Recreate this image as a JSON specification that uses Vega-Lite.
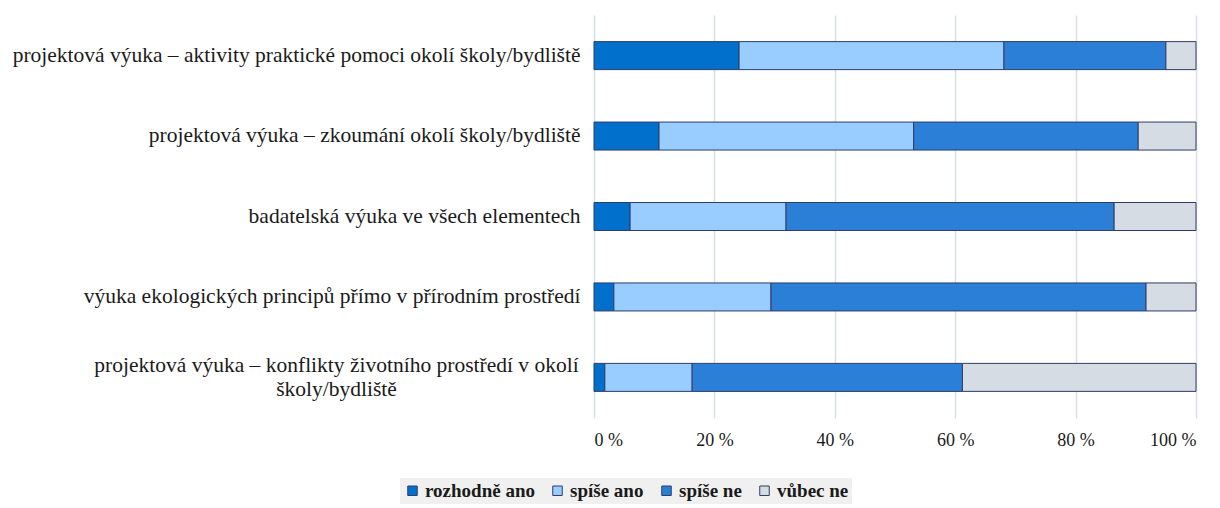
{
  "$schema": "https://vega.github.io/schema/vega-lite/v6.json",
  "autosize": "none",
  "width": 602,
  "height": 403,
  "padding": {"left": 594, "top": 15, "right": 24, "bottom": 90},
  "background": "white",
  "config": {"view": {"stroke": null}, "font": "Liberation Serif"},
  "data": {"values": [
    {"cat": "projektová výuka – aktivity praktické pomoci okolí školy/bydliště", "ord": 1, "resp": "rozhodně ano", "ro": 1, "v": 24.1},
    {"cat": "projektová výuka – aktivity praktické pomoci okolí školy/bydliště", "ord": 1, "resp": "spíše ano", "ro": 2, "v": 44.0},
    {"cat": "projektová výuka – aktivity praktické pomoci okolí školy/bydliště", "ord": 1, "resp": "spíše ne", "ro": 3, "v": 26.9},
    {"cat": "projektová výuka – aktivity praktické pomoci okolí školy/bydliště", "ord": 1, "resp": "vůbec ne", "ro": 4, "v": 5.0},
    {"cat": "projektová výuka – zkoumání okolí školy/bydliště", "ord": 2, "resp": "rozhodně ano", "ro": 1, "v": 10.8},
    {"cat": "projektová výuka – zkoumání okolí školy/bydliště", "ord": 2, "resp": "spíše ano", "ro": 2, "v": 42.3},
    {"cat": "projektová výuka – zkoumání okolí školy/bydliště", "ord": 2, "resp": "spíše ne", "ro": 3, "v": 37.3},
    {"cat": "projektová výuka – zkoumání okolí školy/bydliště", "ord": 2, "resp": "vůbec ne", "ro": 4, "v": 9.6},
    {"cat": "badatelská výuka ve všech elementech", "ord": 3, "resp": "rozhodně ano", "ro": 1, "v": 6.0},
    {"cat": "badatelská výuka ve všech elementech", "ord": 3, "resp": "spíše ano", "ro": 2, "v": 25.9},
    {"cat": "badatelská výuka ve všech elementech", "ord": 3, "resp": "spíše ne", "ro": 3, "v": 54.5},
    {"cat": "badatelská výuka ve všech elementech", "ord": 3, "resp": "vůbec ne", "ro": 4, "v": 13.6},
    {"cat": "výuka ekologických principů přímo v přírodním prostředí", "ord": 4, "resp": "rozhodně ano", "ro": 1, "v": 3.3},
    {"cat": "výuka ekologických principů přímo v přírodním prostředí", "ord": 4, "resp": "spíše ano", "ro": 2, "v": 26.1},
    {"cat": "výuka ekologických principů přímo v přírodním prostředí", "ord": 4, "resp": "spíše ne", "ro": 3, "v": 62.3},
    {"cat": "výuka ekologických principů přímo v přírodním prostředí", "ord": 4, "resp": "vůbec ne", "ro": 4, "v": 8.3},
    {"cat": "projektová výuka – konflikty životního prostředí v okolí školy/bydliště", "ord": 5, "resp": "rozhodně ano", "ro": 1, "v": 1.8},
    {"cat": "projektová výuka – konflikty životního prostředí v okolí školy/bydliště", "ord": 5, "resp": "spíše ano", "ro": 2, "v": 14.5},
    {"cat": "projektová výuka – konflikty životního prostředí v okolí školy/bydliště", "ord": 5, "resp": "spíše ne", "ro": 3, "v": 44.9},
    {"cat": "projektová výuka – konflikty životního prostředí v okolí školy/bydliště", "ord": 5, "resp": "vůbec ne", "ro": 4, "v": 38.8}
  ]},
  "mark": {"type": "bar", "height": 28, "stroke": "#2F3D66", "strokeWidth": 1},
  "encoding": {
    "y": {
      "field": "cat", "type": "nominal",
      "sort": {"field": "ord", "order": "ascending"},
      "scale": {"paddingInner": 0.65, "paddingOuter": 0.33},
      "axis": {
        "title": null, "ticks": false, "domain": false, "grid": false,
        "labelFont": "Liberation Serif", "labelFontSize": 21.5, "labelColor": "#1a1a1a",
        "labelLimit": 800, "labelLineHeight": 24,
        "labelAlign": {"condition": {"test": "indexof(datum.value, 'konflikty') >= 0", "value": "center"}, "value": "right"},
        "labelPadding": {"condition": {"test": "indexof(datum.value, 'konflikty') >= 0", "value": 258}, "value": 14},
        "labelOffset": {"condition": {"test": "indexof(datum.value, 'konflikty') >= 0", "value": -11}, "value": 0},
        "labelExpr": "indexof(datum.value, 'konflikty') >= 0 ? ['projektová výuka – konflikty životního prostředí v okolí', 'školy/bydliště'] : datum.value"
      }
    },
    "x": {
      "field": "v", "type": "quantitative", "stack": "zero",
      "scale": {"domain": [0, 100], "nice": false},
      "axis": {
        "title": null, "values": [0, 20, 40, 60, 80, 100],
        "labelExpr": "datum.value + ' %'",
        "labelFont": "Liberation Serif", "labelFontSize": 18, "labelColor": "#1a1a1a",
        "ticks": false, "domain": false, "grid": true, "gridColor": "#D9DEE6", "gridWidth": 1.5,
        "labelPadding": 13
      }
    },
    "color": {
      "field": "resp", "type": "nominal",
      "sort": ["rozhodně ano", "spíše ano", "spíše ne", "vůbec ne"],
      "scale": {"domain": ["rozhodně ano", "spíše ano", "spíše ne", "vůbec ne"], "range": ["#0070CC", "#99CCFF", "#2B7FD6", "#D6DCE4"]},
      "legend": {
        "title": null, "orient": "none", "direction": "horizontal",
        "legendX": -194, "legendY": 463,
        "fillColor": "#F0F0F0", "padding": 3,
        "symbolType": "square", "symbolSize": 90, "symbolStrokeColor": "#2F3D66", "symbolStrokeWidth": 1,
        "labelFont": "Liberation Serif", "labelFontSize": 19, "labelFontWeight": "bold", "labelColor": "#1a1a1a",
        "labelOffset": 3, "columnPadding": 13
      }
    },
    "order": {"field": "ro", "type": "quantitative"}
  }
}
